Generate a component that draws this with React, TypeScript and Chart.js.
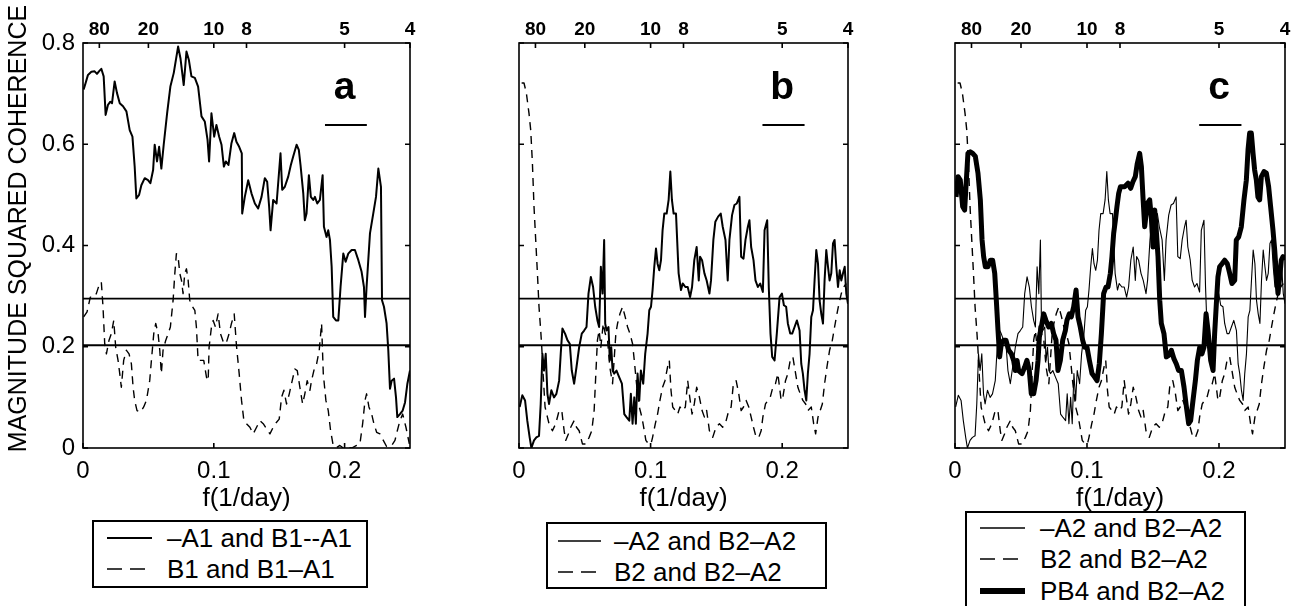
import React, { useEffect, useRef } from "react";
import { Chart, registerables } from "chart.js";

Chart.register(...registerables);

const FONT = "'Liberation Sans', Arial, Helvetica, sans-serif";

// ---------- axis ticks ----------
const periodTicks = [80, 20, 10, 8, 5, 4]; // days, top axis
const freqTicks = [0, 0.1, 0.2]; // 1/day, bottom axis
const cohTicks = [0, 0.2, 0.4, 0.6, 0.8];
const significanceLevels = [0.295, 0.203];
const bandwidthRange = [0.185, 0.217];
const bandwidthLevel = [0.638];

// ---------- panel a ----------
const aSolidF = [0.0005,0.0020,0.0038,0.0064,0.0089,0.0107,0.0122,0.0140,0.0158,0.0173,
0.0191,0.0209,0.0222,0.0242,0.0260,0.0281,0.0306,0.0332,0.0357,0.0378,
0.0395,0.0408,0.0429,0.0446,0.0472,0.0497,0.0515,0.0536,0.0548,0.0566,
0.0582,0.0599,0.0617,0.0643,0.0668,0.0694,0.0727,0.0745,0.0770,0.0791,
0.0809,0.0829,0.0855,0.0880,0.0906,0.0931,0.0952,0.0964,0.0982,0.1003,
0.1020,0.1041,0.1059,0.1077,0.1092,0.1112,0.1135,0.1156,0.1173,0.1194,
0.1214,0.1217,0.1237,0.1263,0.1288,0.1314,0.1339,0.1365,0.1390,0.1408,
0.1423,0.1434,0.1454,0.1480,0.1510,0.1523,0.1543,0.1569,0.1589,0.1607,
0.1633,0.1650,0.1663,0.1684,0.1696,0.1709,0.1727,0.1742,0.1760,0.1773,
0.1791,0.1811,0.1832,0.1842,0.1862,0.1875,0.1888,0.1901,0.1913,0.1934,
0.1952,0.1969,0.1990,0.2008,0.2028,0.2054,0.2079,0.2105,0.2130,0.2148,
0.2156,0.2168,0.2194,0.2219,0.2240,0.2258,0.2278,0.2286,0.2301,0.2321,
0.2334,0.2347,0.2360,0.2378,0.2393,0.2403,0.2423,0.2444,0.2462,0.2480,0.2500];
const aSolidV = [0.708,0.721,0.737,0.743,0.744,0.739,0.744,0.749,0.734,0.658,
0.678,0.684,0.681,0.724,0.701,0.681,0.675,0.665,0.628,0.615,
0.556,0.493,0.500,0.519,0.533,0.529,0.523,0.549,0.599,0.566,
0.595,0.552,0.599,0.661,0.714,0.741,0.793,0.770,0.717,0.783,
0.767,0.734,0.731,0.714,0.655,0.645,0.609,0.566,0.661,0.615,
0.638,0.615,0.599,0.556,0.566,0.559,0.602,0.622,0.605,0.595,
0.582,0.463,0.496,0.529,0.503,0.483,0.473,0.496,0.533,0.526,
0.477,0.430,0.490,0.483,0.582,0.510,0.516,0.536,0.559,0.576,
0.599,0.589,0.559,0.503,0.450,0.463,0.539,0.496,0.490,0.496,
0.483,0.490,0.539,0.437,0.417,0.430,0.411,0.358,0.259,0.252,
0.252,0.318,0.384,0.368,0.384,0.391,0.391,0.371,0.348,0.318,
0.259,0.318,0.424,0.463,0.496,0.552,0.516,0.292,0.279,0.246,
0.193,0.117,0.133,0.137,0.100,0.061,0.067,0.074,0.090,0.127,0.153];

const aDashF = [0.0005,0.0031,0.0056,0.0082,0.0102,0.0122,0.0140,0.0153,0.0166,0.0179,
0.0199,0.0217,0.0235,0.0250,0.0268,0.0281,0.0293,0.0311,0.0332,0.0352,
0.0370,0.0383,0.0395,0.0413,0.0439,0.0464,0.0485,0.0510,0.0523,0.0541,
0.0556,0.0574,0.0587,0.0599,0.0612,0.0633,0.0651,0.0668,0.0689,0.0702,
0.0714,0.0727,0.0740,0.0753,0.0765,0.0778,0.0791,0.0804,0.0816,0.0837,
0.0855,0.0867,0.0880,0.0898,0.0923,0.0944,0.0957,0.0964,0.0982,0.0995,
0.1013,0.1033,0.1051,0.1077,0.1097,0.1117,0.1135,0.1156,0.1173,0.1194,
0.1212,0.1230,0.1250,0.1276,0.1301,0.1327,0.1352,0.1378,0.1403,0.1429,
0.1454,0.1480,0.1500,0.1518,0.1536,0.1556,0.1577,0.1594,0.1620,0.1638,
0.1658,0.1679,0.1696,0.1714,0.1735,0.1747,0.1765,0.1786,0.1806,0.1824,
0.1837,0.1857,0.1875,0.1893,0.1913,0.1939,0.1964,0.1990,0.2015,0.2054,
0.2092,0.2117,0.2138,0.2156,0.2168,0.2186,0.2207,0.2224,0.2245,0.2270,
0.2296,0.2321,0.2360,0.2385,0.2403,0.2423,0.2444,0.2469,0.2495];
const aDashV = [0.259,0.269,0.298,0.298,0.305,0.321,0.328,0.279,0.206,0.186,
0.213,0.226,0.252,0.199,0.173,0.147,0.120,0.173,0.193,0.186,
0.166,0.120,0.094,0.074,0.071,0.081,0.094,0.133,0.173,0.226,
0.246,0.226,0.193,0.147,0.193,0.213,0.226,0.239,0.292,0.345,
0.384,0.378,0.345,0.331,0.305,0.345,0.354,0.331,0.292,0.279,
0.272,0.239,0.173,0.173,0.173,0.140,0.133,0.199,0.239,0.252,
0.239,0.265,0.226,0.206,0.209,0.226,0.246,0.265,0.203,0.147,
0.094,0.054,0.048,0.041,0.028,0.041,0.054,0.048,0.038,0.028,
0.041,0.051,0.057,0.100,0.114,0.087,0.107,0.127,0.156,0.153,
0.120,0.087,0.107,0.133,0.114,0.133,0.153,0.166,0.193,0.246,
0.147,0.094,0.074,0.034,0.005,0.001,0.005,0.000,0.001,0.000,
0.005,0.008,0.048,0.094,0.107,0.081,0.067,0.048,0.031,0.028,
0.015,0.003,0.005,0.015,0.034,0.054,0.067,0.041,0.008];

// ---------- panel b (and thin/dashed lines of panel c) ----------
const bSolidF = [0.0005,0.0025,0.0046,0.0063,0.0081,0.0094,0.0114,0.0132,0.0152,0.0165,
0.0178,0.0190,0.0203,0.0216,0.0228,0.0246,0.0266,0.0284,0.0305,0.0317,
0.0330,0.0350,0.0368,0.0386,0.0401,0.0419,0.0437,0.0457,0.0477,0.0495,
0.0513,0.0528,0.0546,0.0563,0.0579,0.0596,0.0609,0.0622,0.0635,0.0647,
0.0655,0.0665,0.0680,0.0690,0.0701,0.0711,0.0723,0.0741,0.0761,0.0782,
0.0800,0.0817,0.0838,0.0850,0.0863,0.0876,0.0888,0.0901,0.0914,0.0926,
0.0944,0.0959,0.0977,0.0990,0.1003,0.1015,0.1028,0.1041,0.1053,0.1066,
0.1079,0.1091,0.1104,0.1122,0.1137,0.1150,0.1162,0.1175,0.1193,0.1213,
0.1231,0.1244,0.1264,0.1282,0.1300,0.1315,0.1332,0.1350,0.1366,0.1376,
0.1391,0.1409,0.1426,0.1447,0.1459,0.1477,0.1492,0.1513,0.1533,0.1548,
0.1569,0.1586,0.1599,0.1619,0.1637,0.1655,0.1675,0.1688,0.1706,0.1721,
0.1739,0.1751,0.1764,0.1782,0.1797,0.1815,0.1833,0.1853,0.1866,0.1886,
0.1898,0.1911,0.1924,0.1942,0.1959,0.1980,0.1998,0.2013,0.2030,0.2043,
0.2061,0.2076,0.2094,0.2112,0.2132,0.2145,0.2157,0.2170,0.2183,0.2195,
0.2208,0.2221,0.2234,0.2246,0.2259,0.2272,0.2284,0.2297,0.2310,0.2322,
0.2335,0.2348,0.2360,0.2373,0.2386,0.2398,0.2411,0.2424,0.2437,0.2449,
0.2462,0.2475,0.2487,0.2500];
const bSolidV = [0.081,0.104,0.094,0.054,0.021,0.000,0.015,0.021,0.024,0.087,
0.186,0.153,0.186,0.107,0.087,0.114,0.100,0.107,0.133,0.186,
0.236,0.226,0.213,0.206,0.153,0.127,0.160,0.199,0.226,0.232,
0.239,0.305,0.338,0.318,0.279,0.252,0.239,0.358,0.305,0.411,
0.246,0.232,0.239,0.173,0.199,0.153,0.147,0.153,0.140,0.127,
0.067,0.061,0.054,0.107,0.048,0.100,0.048,0.147,0.094,0.153,
0.127,0.186,0.226,0.272,0.279,0.312,0.358,0.394,0.364,0.351,
0.371,0.430,0.463,0.463,0.490,0.546,0.490,0.463,0.463,0.345,
0.312,0.325,0.318,0.318,0.298,0.318,0.371,0.397,0.331,0.378,
0.371,0.345,0.331,0.305,0.331,0.411,0.447,0.457,0.463,0.437,
0.411,0.331,0.411,0.460,0.480,0.483,0.496,0.378,0.374,0.411,
0.437,0.450,0.397,0.371,0.331,0.318,0.325,0.308,0.430,0.450,
0.318,0.226,0.180,0.173,0.226,0.298,0.305,0.282,0.279,0.246,
0.226,0.226,0.239,0.252,0.232,0.166,0.147,0.114,0.094,0.147,
0.186,0.259,0.272,0.331,0.391,0.364,0.292,0.265,0.246,0.331,
0.391,0.358,0.331,0.345,0.404,0.411,0.358,0.318,0.351,0.331,
0.345,0.358,0.305,0.285];

const bDashF = [0.0020,0.0038,0.0056,0.0076,0.0089,0.0102,0.0114,0.0127,0.0140,0.0152,
0.0165,0.0173,0.0183,0.0198,0.0216,0.0228,0.0254,0.0279,0.0305,0.0325,
0.0343,0.0355,0.0376,0.0393,0.0419,0.0437,0.0457,0.0482,0.0508,0.0533,
0.0553,0.0571,0.0584,0.0596,0.0609,0.0622,0.0640,0.0655,0.0673,0.0690,
0.0711,0.0736,0.0749,0.0767,0.0787,0.0807,0.0825,0.0843,0.0863,0.0876,
0.0893,0.0914,0.0934,0.0952,0.0964,0.0985,0.1003,0.1015,0.1036,0.1053,
0.1071,0.1091,0.1109,0.1129,0.1142,0.1155,0.1168,0.1188,0.1206,0.1223,
0.1244,0.1264,0.1282,0.1294,0.1315,0.1332,0.1350,0.1371,0.1391,0.1409,
0.1426,0.1447,0.1472,0.1497,0.1523,0.1548,0.1574,0.1594,0.1612,0.1629,
0.1650,0.1670,0.1688,0.1706,0.1726,0.1746,0.1764,0.1782,0.1802,0.1822,
0.1840,0.1853,0.1873,0.1891,0.1909,0.1929,0.1949,0.1967,0.1992,0.2005,
0.2025,0.2043,0.2061,0.2081,0.2102,0.2119,0.2137,0.2157,0.2178,0.2195,
0.2221,0.2239,0.2254,0.2272,0.2289,0.2305,0.2322,0.2340,0.2360,0.2381,
0.2398,0.2416,0.2431,0.2449,0.2467,0.2487];
const bDashV = [0.721,0.721,0.701,0.661,0.628,0.562,0.477,0.411,0.345,0.279,
0.232,0.199,0.147,0.081,0.061,0.048,0.034,0.048,0.074,0.074,
0.034,0.015,0.028,0.041,0.054,0.041,0.034,0.008,0.008,0.021,
0.034,0.074,0.147,0.213,0.232,0.199,0.246,0.226,0.213,0.160,
0.127,0.226,0.246,0.265,0.279,0.259,0.239,0.226,0.206,0.173,
0.127,0.081,0.061,0.034,0.015,0.008,0.008,0.021,0.048,0.067,
0.094,0.120,0.133,0.160,0.173,0.114,0.081,0.074,0.067,0.081,
0.074,0.081,0.133,0.107,0.067,0.087,0.120,0.100,0.074,0.061,
0.074,0.034,0.021,0.041,0.048,0.041,0.054,0.074,0.081,0.127,
0.133,0.107,0.074,0.081,0.094,0.081,0.061,0.041,0.021,0.021,
0.034,0.061,0.087,0.094,0.100,0.120,0.127,0.147,0.094,0.100,
0.133,0.147,0.173,0.180,0.147,0.120,0.107,0.094,0.087,0.074,
0.081,0.048,0.028,0.061,0.074,0.087,0.127,0.160,0.193,0.213,
0.239,0.265,0.285,0.305,0.318,0.325];

// ---------- panel c: PB4 and B2-A2 ----------
const cThickF = [0.0008,0.0023,0.0040,0.0058,0.0073,0.0083,0.0098,0.0116,0.0134,0.0154,
0.0174,0.0192,0.0205,0.0217,0.0230,0.0250,0.0268,0.0285,0.0301,0.0313,
0.0326,0.0338,0.0351,0.0369,0.0386,0.0407,0.0427,0.0444,0.0457,0.0470,
0.0482,0.0508,0.0528,0.0545,0.0563,0.0578,0.0596,0.0614,0.0629,0.0639,
0.0654,0.0672,0.0689,0.0710,0.0730,0.0747,0.0765,0.0780,0.0798,0.0816,
0.0836,0.0848,0.0866,0.0881,0.0899,0.0917,0.0932,0.0949,0.0967,0.0982,
0.1000,0.1018,0.1038,0.1058,0.1076,0.1093,0.1109,0.1126,0.1144,0.1159,
0.1177,0.1189,0.1202,0.1215,0.1227,0.1240,0.1253,
0.1285,0.1311,0.1331,0.1348,0.1366,0.1381,0.1399,0.1412,0.1424,0.1437,
0.1457,0.1475,0.1487,0.1500,0.1513,0.1523,0.1538,0.1551,0.1563,0.1583,
0.1601,0.1619,0.1639,0.1659,0.1677,0.1694,0.1715,0.1735,0.1753,0.1770,
0.1785,0.1803,0.1821,0.1836,0.1854,0.1871,0.1886,0.1902,0.1917,0.1937,
0.1955,0.1967,0.1980,0.1992,0.2005,0.2023,0.2043,0.2063,0.2081,0.2098,
0.2119,0.2131,0.2149,0.2169,0.2189,0.2207,0.2220,0.2232,0.2245,0.2258,
0.2270,0.2283,0.2295,0.2308,0.2321,0.2341,0.2359,0.2376,0.2391,0.2409,
0.2422,0.2434,0.2447,0.2460,0.2472,0.2485,0.2497];
const cThickV = [0.496,0.536,0.529,0.477,0.470,0.516,0.582,0.585,0.582,0.576,
0.543,0.490,0.411,0.378,0.358,0.358,0.371,0.371,0.345,0.292,
0.232,0.180,0.206,0.213,0.213,0.193,0.186,0.173,0.153,0.173,
0.153,0.147,0.160,0.173,0.153,0.107,0.107,0.133,0.173,0.219,
0.239,0.265,0.252,0.239,0.246,0.226,0.213,0.153,0.173,0.213,
0.232,0.252,0.265,0.259,0.279,0.312,0.259,0.239,0.213,0.199,
0.199,0.173,0.147,0.140,0.133,0.166,0.226,0.305,0.318,0.318,
0.345,0.378,0.424,0.450,0.477,0.503,0.516,
0.516,0.523,0.513,0.526,0.536,0.562,0.582,0.556,0.496,0.437,
0.483,0.490,0.457,0.397,0.470,0.437,0.378,0.292,0.246,0.226,
0.180,0.183,0.193,0.176,0.166,0.153,0.153,0.120,0.081,0.048,
0.054,0.094,0.133,0.173,0.199,0.186,0.199,0.265,0.232,0.173,
0.153,0.226,0.285,0.338,0.358,0.364,0.371,0.364,0.345,0.325,
0.331,0.411,0.417,0.437,0.490,0.529,0.589,0.622,0.622,0.582,
0.549,0.529,0.496,0.490,0.536,0.546,0.543,0.516,0.477,0.430,
0.391,0.345,0.305,0.338,0.371,0.378,0.371];

// ---------- layout ----------
const PLOT_TOP = 43;
const PLOT_BOTTOM = 448;
const CANVAS_H = 520;

type Series = { f: number[]; v: number[]; width: number; dash?: number[] };
type LegendItem = { label: string; width: number; dash?: number[] };
type PanelDef = {
  letter: string;
  canvasLeft: number;
  canvasWidth: number;
  plotLeft: number;
  plotRight: number;
  showY: boolean;
  series: Series[];
  legend: {
    left: number; top: number; width: number; height: number; boxHeight: number;
    rows: number[]; sampleX: number[]; textX: number; items: LegendItem[];
  };
};

const DASH = [8, 6];
const LEGEND_DASH = [15, 8];

const panels: PanelDef[] = [
  {
    letter: "a", canvasLeft: 0, canvasWidth: 440, plotLeft: 83, plotRight: 410, showY: true,
    series: [
      { f: aSolidF, v: aSolidV, width: 2 },
      { f: aDashF, v: aDashV, width: 1.4, dash: DASH },
    ],
    legend: {
      left: 92, top: 520, width: 276, height: 68, boxHeight: 68,
      rows: [538, 569], sampleX: [107, 152], textX: 167,
      items: [
        { label: "\u2013A1 and B1--A1", width: 2 },
        { label: "B1 and B1\u2013A1", width: 1.5, dash: LEGEND_DASH },
      ],
    },
  },
  {
    letter: "b", canvasLeft: 440, canvasWidth: 440, plotLeft: 79, plotRight: 408, showY: false,
    series: [
      { f: bSolidF, v: bSolidV, width: 2 },
      { f: bDashF, v: bDashV, width: 1.4, dash: DASH },
    ],
    legend: {
      left: 546, top: 522, width: 281, height: 67, boxHeight: 67,
      rows: [541, 572], sampleX: [558, 601], textX: 614,
      items: [
        { label: "\u2013A2 and B2\u2013A2", width: 1.3 },
        { label: "B2 and B2\u2013A2", width: 1.5, dash: LEGEND_DASH },
      ],
    },
  },
  {
    letter: "c", canvasLeft: 870, canvasWidth: 432, plotLeft: 85, plotRight: 415, showY: false,
    series: [
      { f: bSolidF, v: bSolidV, width: 1.1 },
      { f: bDashF, v: bDashV, width: 1.4, dash: DASH },
      { f: cThickF, v: cThickV, width: 5 },
    ],
    legend: {
      left: 965, top: 511, width: 281, height: 95, boxHeight: 110,
      rows: [528, 559, 591], sampleX: [980, 1025], textX: 1040,
      items: [
        { label: "\u2013A2 and B2\u2013A2", width: 1.3 },
        { label: "B2 and B2\u2013A2", width: 1.5, dash: LEGEND_DASH },
        { label: "PB4 and B2\u2013A2", width: 6 },
      ],
    },
  },
];

function zip(f: number[], v: number[]) {
  const n = Math.min(f.length, v.length);
  const out: { x: number; y: number }[] = [];
  for (let i = 0; i < n; i++) out.push({ x: f[i], y: v[i] });
  return out;
}

const framePlugin = {
  id: "frame",
  afterDatasetsDraw(chart: any, _args: any, opts: any) {
    const { ctx, chartArea, scales } = chart;
    const { left, right, top, bottom } = chartArea;
    ctx.save();
    ctx.strokeStyle = "#000";
    ctx.lineWidth = 1.6;
    ctx.strokeRect(left, top, right - left, bottom - top);
    const tl = 5;
    ctx.beginPath();
    for (const v of cohTicks) {
      const y = scales.y.getPixelForValue(v);
      ctx.moveTo(left, y); ctx.lineTo(left + tl, y);
      ctx.moveTo(right, y); ctx.lineTo(right - tl, y);
    }
    for (const v of freqTicks) {
      const x = scales.x.getPixelForValue(v);
      ctx.moveTo(x, bottom); ctx.lineTo(x, bottom - tl);
    }
    for (const p of periodTicks) {
      const x = scales.xTop.getPixelForValue(1 / p);
      ctx.moveTo(x, top); ctx.lineTo(x, top + tl);
    }
    ctx.stroke();

    ctx.fillStyle = "#000";
    ctx.font = `bold 39px ${FONT}`;
    ctx.textAlign = "center";
    ctx.textBaseline = "alphabetic";
    ctx.fillText(opts.letter, scales.x.getPixelForValue(0.2), scales.y.getPixelForValue(0.69));

    if (opts.yTitle) {
      ctx.save();
      ctx.translate(26, (top + bottom) / 2 - 17);
      ctx.rotate(-Math.PI / 2);
      ctx.font = `25px ${FONT}`;
      ctx.textAlign = "center";
      ctx.textBaseline = "alphabetic";
      ctx.fillText("MAGNITUDE SQUARED COHERENCE", 0, 0);
      ctx.restore();
    }
    ctx.restore();
  },
};

function Panel({ def }: { def: PanelDef }) {
  const ref = useRef<HTMLCanvasElement>(null);
  useEffect(() => {
    const canvas = ref.current;
    if (!canvas) return;
    const datasets: any[] = def.series.map((s) => ({
      data: zip(s.f, s.v),
      borderColor: "#000",
      borderWidth: s.width,
      borderDash: s.dash ?? [],
      borderJoinStyle: "round",
      pointRadius: 0,
      tension: 0,
      fill: false,
      xAxisID: "x",
      yAxisID: "y",
    }));
    significanceLevels.forEach((lv) =>
      datasets.push({
        data: [{ x: 0, y: lv }, { x: 0.25, y: lv }],
        borderColor: "#000", borderWidth: 1.8, pointRadius: 0, fill: false, xAxisID: "x", yAxisID: "y",
      })
    );
    datasets.push({
      data: [{ x: bandwidthRange[0], y: bandwidthLevel[0] }, { x: bandwidthRange[1], y: bandwidthLevel[0] }],
      borderColor: "#000", borderWidth: 1.8, pointRadius: 0, fill: false, xAxisID: "x", yAxisID: "y",
    });

    const chart = new Chart(canvas, {
      type: "line",
      data: { datasets },
      options: {
        animation: false,
        responsive: false,
        devicePixelRatio: 1,
        events: [],
        layout: { padding: { left: 0, top: 0, bottom: 0, right: def.canvasWidth - def.plotRight } },
        plugins: {
          legend: { display: false },
          tooltip: { enabled: false },
          frame: { letter: def.letter, yTitle: def.showY },
        } as any,
        scales: {
          x: {
            type: "linear",
            position: "bottom",
            min: 0,
            max: 0.25,
            afterBuildTicks: (s: any) => { s.ticks = freqTicks.map((v) => ({ value: v })); },
            afterFit: (s: any) => { s.height = CANVAS_H - PLOT_BOTTOM; },
            grid: { display: false, drawTicks: false },
            border: { display: false },
            ticks: {
              autoSkip: false, maxRotation: 0, padding: 9, color: "#000",
              font: { family: FONT, size: 24 },
              callback: (v: any) => (Number(v) === 0 ? "0" : Number(v).toFixed(1)),
            },
            title: {
              display: true, text: "f(1/day)", color: "#000",
              font: { family: FONT, size: 26 }, padding: { top: 0, bottom: 6 },
            },
          },
          xTop: {
            type: "linear",
            axis: "x",
            position: "top",
            min: 0,
            max: 0.25,
            afterBuildTicks: (s: any) => { s.ticks = periodTicks.map((p) => ({ value: 1 / p })); },
            afterFit: (s: any) => { s.height = PLOT_TOP; },
            grid: { display: false, drawTicks: false },
            border: { display: false },
            ticks: {
              autoSkip: false, maxRotation: 0, padding: 2, color: "#000",
              font: { family: FONT, size: 19, weight: "bold" },
              callback: (v: any) => String(Math.round(1 / Number(v))),
            },
          },
          y: {
            type: "linear",
            position: "left",
            min: 0,
            max: 0.8,
            afterBuildTicks: (s: any) => { s.ticks = cohTicks.map((v) => ({ value: v })); },
            afterFit: (s: any) => { s.width = def.plotLeft; },
            grid: { display: false, drawTicks: false },
            border: { display: false },
            ticks: {
              display: def.showY, padding: 8, color: "#000",
              font: { family: FONT, size: 24 },
              callback: (v: any) => (Number(v) === 0 ? "0" : Number(v).toFixed(1)),
            },
          },
        } as any,
      },
      plugins: [framePlugin],
    });
    return () => chart.destroy();
  }, [def]);

  return (
    <canvas
      ref={ref}
      width={def.canvasWidth}
      height={CANVAS_H}
      style={{ position: "absolute", left: def.canvasLeft, top: 0, width: def.canvasWidth, height: CANVAS_H }}
    />
  );
}

function Legend({ def }: { def: PanelDef }) {
  const L = def.legend;
  return (
    <svg
      width={L.width}
      height={L.height}
      style={{ position: "absolute", left: L.left, top: L.top, overflow: "hidden" }}
    >
      <rect x={1} y={1} width={L.width - 2} height={L.boxHeight - 2} fill="#fff" stroke="#000" strokeWidth={2} />
      {L.items.map((it, i) => (
        <g key={i}>
          <line
            x1={L.sampleX[0] - L.left}
            x2={L.sampleX[1] - L.left}
            y1={L.rows[i] - L.top}
            y2={L.rows[i] - L.top}
            stroke="#000"
            strokeWidth={it.width}
            strokeDasharray={it.dash ? it.dash.join(" ") : undefined}
          />
          <text
            x={L.textX - L.left}
            y={L.rows[i] - L.top + 9}
            fontFamily={FONT}
            fontSize={26}
            fill="#000"
          >
            {it.label}
          </text>
        </g>
      ))}
    </svg>
  );
}

export default function App() {
  return (
    <div
      style={{
        position: "absolute", left: 0, top: 0, width: 1302, height: 606,
        overflow: "hidden", background: "#fff",
      }}
    >
      {panels.map((p) => (
        <Panel key={p.letter} def={p} />
      ))}
      {panels.map((p) => (
        <Legend key={"lg" + p.letter} def={p} />
      ))}
    </div>
  );
}
